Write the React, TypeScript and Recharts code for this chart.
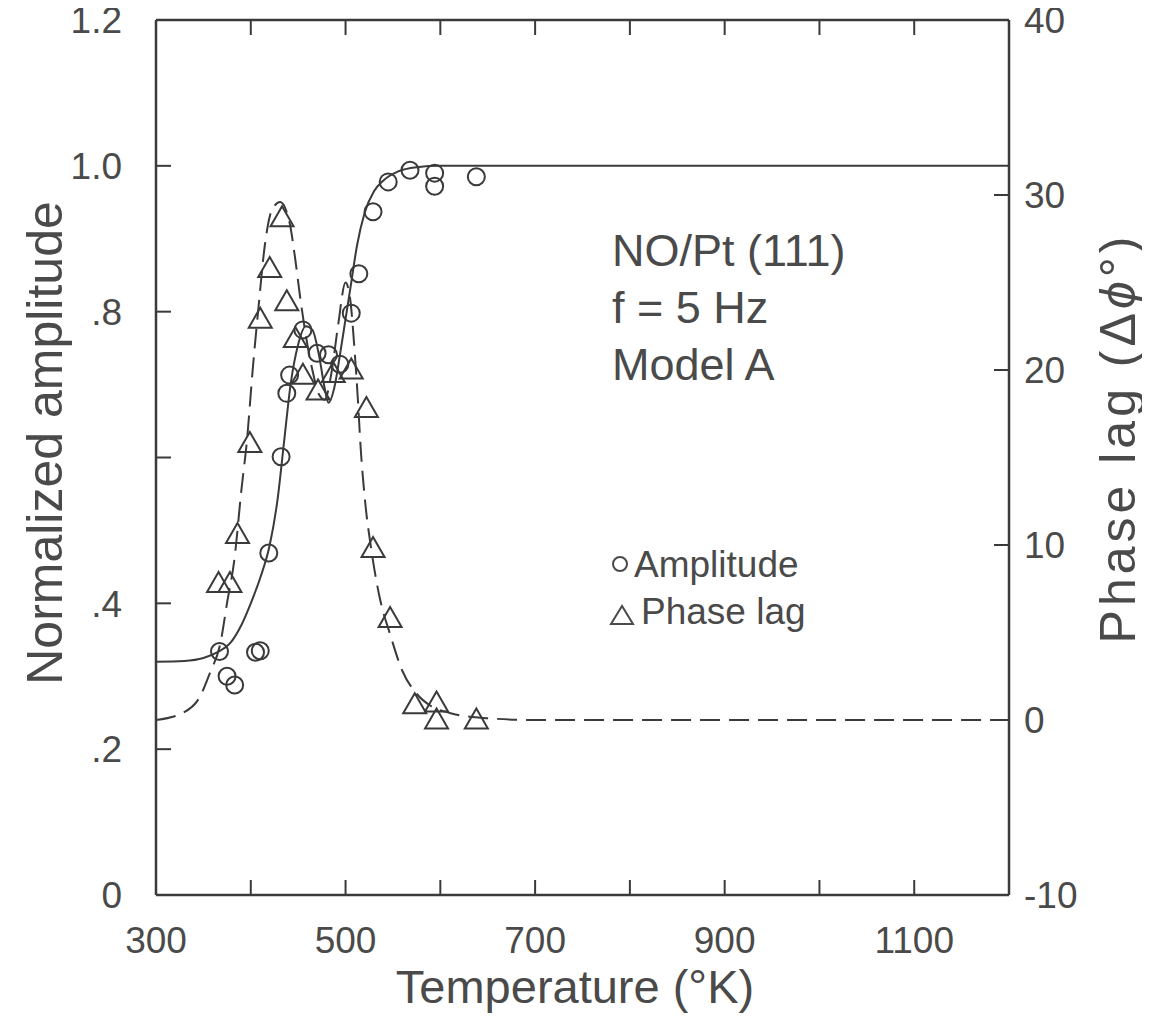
import React from 'react';
import { ComposedChart, Line, Scatter, XAxis, YAxis } from 'recharts';

// ---- axis ticks ----
const xTicks = [300, 400, 500, 600, 700, 800, 900, 1000, 1100, 1200];
const xTickLabels = ['300', '', '500', '', '700', '', '900', '', '1100', ''];
const ampTicks = [0, 0.2, 0.4, 0.6, 0.8, 1.0, 1.2];
const ampTickLabels = ['0', '.2', '.4', '', '.8', '1.0', '1.2'];
const phaseTicks = [-10, 0, 10, 20, 30, 40];
const phaseTickLabels = ['-10', '0', '10', '20', '30', '40'];

// ---- model curves ----
const ampCurveT = [300, 330, 350, 365, 378, 390, 400, 410, 420, 428, 435, 442, 450, 458, 465, 472, 478, 482, 488, 494, 500, 506, 512, 520, 530, 540, 555, 575, 600, 700, 900, 1200];
const ampCurveA = [0.32, 0.321, 0.325, 0.333, 0.345, 0.37, 0.4, 0.435, 0.48, 0.54, 0.62, 0.7, 0.755, 0.78, 0.775, 0.74, 0.695, 0.675, 0.695, 0.74, 0.79, 0.84, 0.89, 0.935, 0.965, 0.98, 0.992, 0.998, 1.0, 1.0, 1.0, 1.0];

const phaseCurveT = [300, 328, 346, 357, 368, 375, 383, 390, 396, 402, 408, 415, 422, 431, 441, 447, 452, 458, 465, 472, 478, 485, 492, 500, 505, 509, 513, 516, 521, 527, 536, 547, 560, 575, 590, 610, 650, 700, 900, 1200];
const phaseCurveP = [0.0, 0.4, 1.3, 2.7, 4.4, 6.7, 9.3, 13.1, 16.0, 20.0, 23.5, 27.2, 29.1, 29.6, 28.4, 26.3, 24.2, 22.0, 20.0, 18.6, 18.3, 19.8, 22.5, 25.0, 24.0, 21.5, 18.3, 15.5, 12.3, 9.8, 7.0, 4.9, 2.8, 1.5, 0.8, 0.4, 0.1, 0.0, 0.0, 0.0];

// ---- measured points ----
const ampPointsT = [367, 375, 383, 405, 410, 419, 432, 438, 441, 455, 470, 482, 494, 506, 514, 529, 545, 568, 594, 594, 638];
const ampPointsA = [0.334, 0.3, 0.288, 0.333, 0.335, 0.469, 0.601, 0.688, 0.713, 0.775, 0.743, 0.741, 0.728, 0.798, 0.852, 0.937, 0.978, 0.994, 0.99, 0.972, 0.985];

const phasePointsT = [366, 378, 386, 399, 410, 420, 433, 438, 447, 455, 471, 487, 506, 522, 529, 547, 573, 596, 596, 638];
const phasePointsP = [7.7, 7.7, 10.5, 15.7, 22.8, 25.7, 28.6, 23.8, 21.7, 19.6, 18.7, 19.7, 19.9, 17.7, 9.7, 5.7, 0.76, 0.86, -0.1, -0.1];

const zip = (xs: number[], ys: number[]) => xs.map((x, i) => ({ x, y: ys[i] }));
const ampCurve = zip(ampCurveT, ampCurveA);
const phaseCurve = zip(phaseCurveT, phaseCurveP);
const ampPoints = zip(ampPointsT, ampPointsA);
const phasePoints = zip(phasePointsT, phasePointsP);

const INK = '#3a3a3a';
const TEXT = '#4a4a4a';
const FONT = '"Liberation Sans", Arial, Helvetica, sans-serif';
const TICK_LEN = 15;
const TICK_FS = 37;

const W = 1150;
const H = 1036;

const labelFor = (ticks: number[], labels: string[], v: number) => {
  const i = ticks.findIndex((t) => Math.abs(t - v) < 1e-6);
  return i >= 0 ? labels[i] : '';
};

const BottomTick = (p: any) => {
  const { x, y, payload } = p;
  const v = payload.value;
  const lab = labelFor(xTicks, xTickLabels, v);
  return (
    <g>
      {v > 300 && v < 1200 && <line x1={x} x2={x} y1={y} y2={y - TICK_LEN} stroke={INK} strokeWidth={2} />}
      {lab && (
        <text x={x} y={y + 45} dy="0.36em" textAnchor="middle" fontSize={TICK_FS} fontFamily={FONT} fill={TEXT}>
          {lab}
        </text>
      )}
    </g>
  );
};

const TopTick = (p: any) => {
  const { x, y, payload } = p;
  const v = payload.value;
  if (!(v > 300 && v < 1200)) return <g />;
  return <line x1={x} x2={x} y1={y} y2={y + TICK_LEN} stroke={INK} strokeWidth={2} />;
};

const LeftTick = (p: any) => {
  const { x, y, payload } = p;
  const v = payload.value;
  const lab = labelFor(ampTicks, ampTickLabels, v);
  return (
    <g>
      {v > 0 && v < 1.2 && <line x1={x} x2={x + TICK_LEN} y1={y} y2={y} stroke={INK} strokeWidth={2} />}
      {lab && (
        <text x={x - 34} y={y} dy="0.36em" textAnchor="end" fontSize={TICK_FS} fontFamily={FONT} fill={TEXT}>
          {lab}
        </text>
      )}
    </g>
  );
};

const RightTick = (p: any) => {
  const { x, y, payload } = p;
  const v = payload.value;
  const lab = labelFor(phaseTicks, phaseTickLabels, v);
  return (
    <g>
      {v > -10 && v < 40 && <line x1={x} x2={x - TICK_LEN} y1={y} y2={y} stroke={INK} strokeWidth={2} />}
      {lab && (
        <text x={x + 15} y={y} dy="0.36em" textAnchor="start" fontSize={TICK_FS} fontFamily={FONT} fill={TEXT}>
          {lab}
        </text>
      )}
    </g>
  );
};

const CircleShape = (p: any) => {
  const { cx, cy } = p;
  if (cx == null || cy == null) return <g />;
  return <circle cx={cx} cy={cy} r={8.5} fill="none" stroke={INK} strokeWidth={2} />;
};

const TriangleShape = (p: any) => {
  const { cx, cy } = p;
  if (cx == null || cy == null) return <g />;
  const w = 23;
  const h = 20;
  const pts = `${cx},${cy - (2 * h) / 3} ${cx - w / 2},${cy + h / 3} ${cx + w / 2},${cy + h / 3}`;
  return <polygon points={pts} fill="none" stroke={INK} strokeWidth={2} strokeLinejoin="miter" />;
};

const axisLine = { stroke: INK, strokeWidth: 2.5 };

export default function App() {
  return (
    <div style={{ position: 'relative', width: W, height: H, margin: '-8px 0 0 -8px', background: '#fff' }}>
      <ComposedChart width={W} height={H} margin={{ top: 8, right: 0, bottom: 0, left: 0 }}>
        <XAxis
          xAxisId="bottom"
          dataKey="x"
          type="number"
          domain={[300, 1200]}
          allowDataOverflow
          ticks={xTicks}
          interval={0}
          tickSize={0}
          tickMargin={0}
          tickLine={false}
          axisLine={axisLine}
          tick={BottomTick}
          height={141}
          orientation="bottom"
        />
        <XAxis
          xAxisId="top"
          dataKey="x"
          type="number"
          domain={[300, 1200]}
          allowDataOverflow
          ticks={xTicks}
          interval={0}
          tickSize={0}
          tickMargin={0}
          tickLine={false}
          axisLine={axisLine}
          tick={TopTick}
          height={12}
          orientation="top"
        />
        <YAxis
          yAxisId="amp"
          dataKey="y"
          type="number"
          domain={[0, 1.2]}
          allowDataOverflow
          ticks={ampTicks}
          interval={0}
          tickSize={0}
          tickMargin={0}
          tickLine={false}
          axisLine={axisLine}
          tick={LeftTick}
          width={156}
          orientation="left"
        />
        <YAxis
          yAxisId="phase"
          dataKey="y"
          type="number"
          domain={[-10, 40]}
          allowDataOverflow
          ticks={phaseTicks}
          interval={0}
          tickSize={0}
          tickMargin={0}
          tickLine={false}
          axisLine={axisLine}
          tick={RightTick}
          width={141}
          orientation="right"
        />
        <Line
          xAxisId="bottom"
          yAxisId="amp"
          data={ampCurve}
          dataKey="y"
          type="monotone"
          stroke={INK}
          strokeWidth={2}
          dot={false}
          activeDot={false}
          isAnimationActive={false}
        />
        <Line
          xAxisId="bottom"
          yAxisId="phase"
          data={phaseCurve}
          dataKey="y"
          type="monotone"
          stroke={INK}
          strokeWidth={2}
          strokeDasharray="20 9"
          dot={false}
          activeDot={false}
          isAnimationActive={false}
        />
        <Scatter
          xAxisId="bottom"
          yAxisId="amp"
          data={ampPoints}
          dataKey="y"
          shape={CircleShape}
          isAnimationActive={false}
        />
        <Scatter
          xAxisId="bottom"
          yAxisId="phase"
          data={phasePoints}
          dataKey="y"
          shape={TriangleShape}
          isAnimationActive={false}
        />
      </ComposedChart>
      <svg
        width={W}
        height={H}
        style={{ position: 'absolute', left: 0, top: 0, pointerEvents: 'none', overflow: 'visible' }}
      >
        <g fontFamily={FONT} fill={TEXT}>
          <text x={612} y={266} fontSize={45}>NO/Pt (111)</text>
          <text x={612} y={323} fontSize={45}>f = 5 Hz</text>
          <text x={612} y={380} fontSize={45}>Model A</text>

          <circle cx={620} cy={564} r={7} fill="none" stroke={TEXT} strokeWidth={2} />
          <text x={634} y={577} fontSize={37}>Amplitude</text>
          <polygon points="622,606 611,624 633,624" fill="none" stroke={TEXT} strokeWidth={2} />
          <text x={641} y={624} fontSize={37}>Phase lag</text>

          <text x={575} y={1003} fontSize={47} textAnchor="middle">Temperature (°K)</text>
          <text
            x={45}
            y={443}
            fontSize={50}
            textAnchor="middle"
            dominantBaseline="central"
            transform="rotate(-90 45 443)"
          >
            Normalized amplitude
          </text>
          <text
            x={1118}
            y={438}
            fontSize={50}
            letterSpacing={4}
            textAnchor="middle"
            dominantBaseline="central"
            transform="rotate(-90 1118 438)"
          >
            Phase lag (Δ<tspan fontStyle="italic">ϕ</tspan>°)
          </text>
        </g>
      </svg>
    </div>
  );
}
